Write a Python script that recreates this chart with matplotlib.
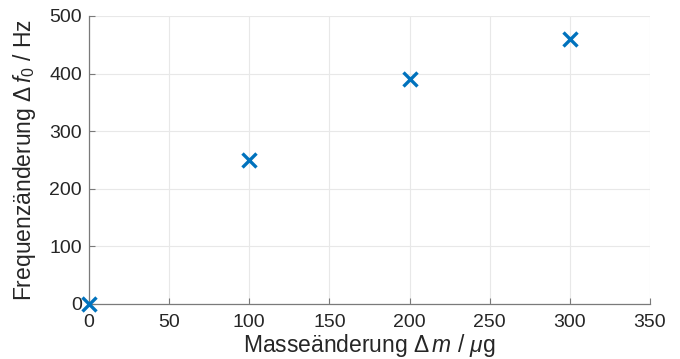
import matplotlib
matplotlib.use("Agg")
import matplotlib.pyplot as plt

mass_change = [0, 100, 200, 300]
freq_change = [0, 250, 390, 460]
x_ticks = [0, 50, 100, 150, 200, 250, 300, 350]
y_ticks = [0, 100, 200, 300, 400, 500]

plt.rcParams['font.family'] = ['Liberation Sans', 'DejaVu Sans']
plt.rcParams['mathtext.fontset'] = 'custom'
plt.rcParams['mathtext.rm'] = 'Liberation Sans'
plt.rcParams['mathtext.it'] = 'Liberation Sans:italic'
plt.rcParams['mathtext.default'] = 'regular'

fig = plt.figure(figsize=(6.8, 3.59), dpi=100)
ax = fig.add_axes([89/680, 55/359, 561/680, 288/359])

ax.plot(mass_change, freq_change, linestyle='none', marker='x', markersize=10,
        markeredgewidth=2.4, color='#0072BD', clip_on=False, zorder=5)

ax.set_xlim(0, 350)
ax.set_ylim(0, 500)
ax.set_xticks(x_ticks)
ax.set_yticks(y_ticks)
ax.grid(True, color='#e8e8e8', linewidth=0.8)
ax.set_axisbelow(True)
for s in ['top', 'right']:
    ax.spines[s].set_visible(False)
for s in ['left', 'bottom']:
    ax.spines[s].set_color('#7a7a7a')
    ax.spines[s].set_linewidth(0.9)
ax.tick_params(direction='in', length=4, width=0.8, color='#7a7a7a',
               labelsize=14, labelcolor='#262626')
ax.tick_params(axis='x', pad=7)
ax.tick_params(axis='y', pad=5)

ax.set_xlabel('Masseänderung $\\Delta\\,\\mathit{m}$ / $\\mathit{\\mu}$g', fontsize=16.5,
              color='#262626', labelpad=1)
ax.set_ylabel('Frequenzänderung $\\Delta\\,\\mathit{f}_0$ / Hz', fontsize=16.5,
              color='#262626', labelpad=8)

fig.savefig('out.png', dpi=100, facecolor='white')
